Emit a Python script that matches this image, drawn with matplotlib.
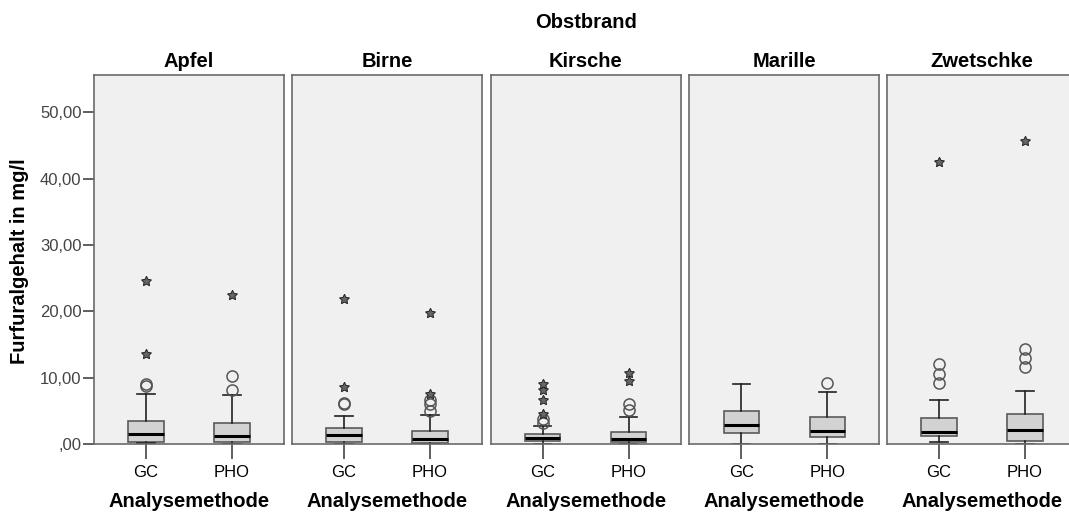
import matplotlib
matplotlib.use("Agg")
import matplotlib.pyplot as plt

plt.rcParams['font.family'] = ['Liberation Sans', 'DejaVu Sans']

fruits = ["Apfel", "Birne", "Kirsche", "Marille", "Zwetschke"]
methods = ["GC", "PHO"]

# Box statistics per fruit, [GC, PHO]: lower whisker, Q1, median, Q3, upper whisker
whislo = [[0.1, 0.05], [0.0, 0.0], [0.0, 0.0], [0.05, 0.05], [0.25, 0.0]]
q1 = [[0.35, 0.3], [0.35, 0.2], [0.45, 0.3], [1.7, 1.05], [1.2, 0.45]]
med = [[1.46, 1.25], [1.36, 0.75], [0.85, 0.75], [2.86, 1.96], [1.86, 2.05]]
q3 = [[3.46, 3.16], [2.36, 2.0], [1.5, 1.86], [5.0, 4.0], [3.86, 4.5]]
whishi = [[7.6, 7.4], [4.2, 4.37], [2.76, 4.1], [9.0, 7.9], [6.7, 8.0]]

# Outliers (circles) and extreme values (stars)
outliers = [
    [[8.7, 9.0], [8.2, 10.2]],
    [[6.0, 6.2], [5.0, 6.0, 6.6]],
    [[3.1, 3.7], [5.17, 6.1]],
    [[], [9.2]],
    [[9.2, 10.6, 12.0], [11.55, 12.9, 14.26]],
]
extremes = [
    [[13.55, 24.6], [22.4]],
    [[8.6, 21.9], [7.6, 19.7]],
    [[4.5, 6.7, 8.1, 9.1], [9.5, 10.7]],
    [[], []],
    [[42.5], [45.7]],
]

yticks = [0, 10, 20, 30, 40, 50]
ytick_labels = [",00", "10,00", "20,00", "30,00", "40,00", "50,00"]

W, H = 1069, 515
fig = plt.figure(figsize=(W / 100, H / 100), dpi=100)

edge = "#5a5a5a"
panel_left = [94, 292, 490.7, 689.3, 887]
panel_w = 190
top, bottom = 75, 444
bold_size = 14.5

for i, fruit in enumerate(fruits):
    ax = fig.add_axes([panel_left[i] / W, 1 - bottom / H, panel_w / W, (bottom - top) / H])
    ax.set_facecolor("#f0f0f0")
    stats = []
    for j, m in enumerate(methods):
        stats.append(dict(med=med[i][j], q1=q1[i][j], q3=q3[i][j],
                          whislo=whislo[i][j], whishi=whishi[i][j], label=m))
    ax.bxp(stats, positions=[1, 2], widths=0.41, showfliers=False, patch_artist=True,
           boxprops=dict(facecolor="#d2d2d2", edgecolor=edge, linewidth=1.2),
           medianprops=dict(color="black", linewidth=2.2),
           whiskerprops=dict(color="#222222", linewidth=1.2),
           capprops=dict(color="#222222", linewidth=1.2),
           capwidths=0.2)
    for j in range(2):
        ys = outliers[i][j]
        if ys:
            ax.plot([j + 1] * len(ys), ys, linestyle="none", marker="o", ms=8,
                    mfc="none", mec="#555555", mew=1.1)
        ys = extremes[i][j]
        if ys:
            ax.plot([j + 1] * len(ys), ys, linestyle="none", marker=(5, 1, 0), ms=7.5,
                    mfc="#666666", mec="#222222", mew=0.7)
    ax.set_xlim(0.394, 2.606)
    ax.set_ylim(0, 55.6)
    for s in ax.spines.values():
        s.set_color("#6a6a6a")
        s.set_linewidth(1.2)
    ax.set_xticks([1, 2])
    ax.set_xticklabels(methods, fontsize=12)
    ax.tick_params(axis="x", length=11, width=1.2, color="#444444", pad=4)
    ax.set_xlabel("Analysemethode", fontsize=bold_size, fontweight="bold", labelpad=9)
    ax.set_title(fruit, fontsize=bold_size, fontweight="bold", pad=6)
    if i == 0:
        ax.set_yticks(yticks)
        ax.set_yticklabels(ytick_labels, fontsize=12, color="#444444")
        ax.tick_params(axis="y", length=8, width=1.2, color="#444444", pad=1)
    else:
        ax.set_yticks([])

fig.text(20 / W, 1 - 261.5 / H, "Furfuralgehalt in mg/l", rotation=90, ha="center",
         va="center", fontsize=bold_size, fontweight="bold")
fig.text(586 / W, 1 - 22 / H, "Obstbrand", ha="center", va="center",
         fontsize=bold_size, fontweight="bold")

fig.savefig("out.png", dpi=100, facecolor="white")
